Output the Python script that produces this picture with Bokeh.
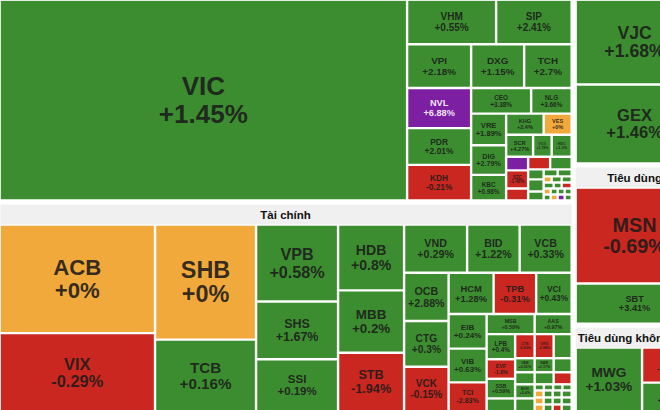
from bokeh.plotting import figure
from bokeh.models import ColumnDataSource, Range1d
from bokeh.embed import file_html
from bokeh.resources import INLINE
from bokeh.core.properties import value

# ---------------- data ----------------
sector_names = ["Bất động sản", "Tài chính", "Công nghiệp", "Tiêu dùng", "Tiêu dùng không thiết yếu"]
sector_weights = [129.6, 121.5, 22.9, 19.5, 10.7]

bds_tickers = ["VIC", "VHM", "SIP", "VPI", "DXG", "TCH", "NVL", "PDR", "KDH", "CEO", "NLG",
               "VRE", "DIG", "KBC", "KHG", "VES", "SCR", "VCG", "HDC", "IJC", "SZC", "NTL",
               "HDG", "TDC", "DXS", "CRE", "HQC", "LDG", "NBB", "QCG", "SJS", "ITC", "DPG",
               "LHG", "TIG", "API", "CKG", "PDC", "IDJ", "HPX", "LGL", "TDH", "NRC"]
bds_changes = [1.45, 0.55, 2.41, 2.18, 1.15, 2.7, 6.88, 2.01, -0.21, 3.38, 3.66,
               1.89, 2.79, 0.98, 2.40, 0, 4.27, 1.78, 1.30, 6.93, -1.48, -0.52,
               -0.64, 1.21, 1.10, 2.00, 1.52, 0.80, 1.00, 0, 0.50, 1.30, 0.70,
               0.40, -1.10, 0, 0.60, 1.00, 0, 0.30, 6.90, 1.20, 2.30]
bds_weights = [81500, 3960, 3360, 2784, 2306, 2066, 2560, 2336, 2272, 1530, 1033,
               1103, 1033, 893, 788, 588, 594, 407, 440, 297, 396, 264,
               275, 269, 155, 186, 140, 98, 98, 48, 60, 60, 60,
               48, 60, 42, 42, 42, 42, 42, 42, 42, 42]

tc_tickers = ["ACB", "VIX", "SHB", "TCB", "VPB", "SHS", "SSI", "HDB", "MBB", "STB",
              "VND", "BID", "VCB", "OCB", "CTG", "VCK", "HCM", "TPB", "VCI", "EIB",
              "VIB", "TCI", "MSB", "AAS", "LPB", "EVF", "SSB", "FTS", "CTS", "ORS",
              "BSI", "VAB", "NAB", "BVB", "TVS", "AGR", "MIG", "BVH", "KLB", "VIG",
              "APG", "BMI", "PTI", "SGB", "PGB", "BAB", "VBB", "NVB", "WSS", "EVS",
              "IVS", "HBS", "PSI", "DSC", "TVB"]
tc_changes = [0, -0.29, 0, 0.16, 0.58, 1.67, 0.19, 0.8, 0.2, -1.94,
              0.29, 1.22, 0.33, 2.88, 0.3, -0.15, 1.28, -0.31, 0.43, 0.24,
              0.63, -2.83, 0.59, 0.97, 0.40, -1.80, 0.59, 0.80, -0.93, -0.98,
              0.72, 0.55, 1.17, 0.63, 2.35, 1.10, -0.50, 0.40, 0.90, 1.00,
              0.50, 0.60, 0.70, 0, 0.40, 0.30, 0.20, 0, 1.20, 0.80,
              0.50, 0, 0.90, -0.70, 1.10]
tc_weights = [16794, 12129, 11565, 7222, 6273, 4715, 4264, 4323, 4092, 3861,
              3024, 2520, 2496, 2136, 2025, 1980, 1845, 1743, 1456, 1311,
              1273, 1102, 960, 740, 713, 556, 556, 371, 468, 456,
              432, 273, 266, 252, 234, 228, 216, 273, 254, 56,
              56, 56, 56, 63, 63, 63, 70, 63, 63, 63,
              70, 63, 63, 63, 70]

cn_tickers = ["VJC", "GEX"]
cn_changes = [1.68, 1.46]
cn_weights = [10309, 9577]

td_tickers = ["MSN", "SBT"]
td_changes = [-0.69, 3.41]
td_weights = [11564, 4838]

tdk_tickers = ["MWG", "PNJ", "HAX"]
tdk_changes = [1.03, -1.10, 1.20]
tdk_weights = [4123, 1751, 1442]

# ---------------- structure (slice & dice nesting) ----------------
bds_tree = ("h", ["VIC", ("v", [
    ("h", ["VHM", "SIP"]),
    ("h", ["VPI", "DXG", "TCH"]),
    ("h", [("v", ["NVL", "PDR", "KDH"]),
           ("v", [("h", ["CEO", "NLG"]),
                  ("h", [("v", ["VRE", "DIG", "KBC"]),
                         ("v", [("h", ["KHG", "VES"]),
                                ("h", ["SCR", "VCG", "HDC"]),
                                ("h", [("v", ["IJC", "SZC", "NTL"]),
                                       ("v", [("h", ["HDG", "TDC"]),
                                              ("h", [("v", ["DXS", "CRE", "HQC"]),
                                                     ("v", [("h", ["LDG", "NBB"]),
                                                            ("h", ["QCG", "SJS", "ITC"]),
                                                            ("h", ["DPG", "LHG", "TIG"]),
                                                            ("h", [("v", ["API", "CKG"]),
                                                                   ("v", ["PDC", "IDJ"]),
                                                                   ("v", ["HPX", "LGL"]),
                                                                   ("v", ["TDH", "NRC"])])])])])])])])])])])])

tc_tree = ("h", [("v", ["ACB", "VIX"]), ("v", ["SHB", "TCB"]), ("v", ["VPB", "SHS", "SSI"]),
                 ("v", ["HDB", "MBB", "STB"]),
                 ("v", [("h", ["VND", "BID", "VCB"]),
                        ("h", [("v", ["OCB", "CTG", "VCK"]),
                               ("v", [("h", ["HCM", "TPB", "VCI"]),
                                      ("h", [("v", ["EIB", "VIB", "TCI"]),
                                             ("v", [("h", ["MSB", "AAS"]),
                                                    ("h", [("v", ["LPB", "EVF", "SSB", "FTS"]),
                                                           ("v", [("h", ["CTS", "ORS", "BSI"]),
                                                                  ("h", ["VAB", "NAB", "BVB"]),
                                                                  ("h", ["TVS", "AGR", "MIG"]),
                                                                  ("h", [("v", ["BVH", "KLB"]),
                                                                         ("v", [("h", ["VIG", "APG", "BMI", "PTI"]),
                                                                                ("h", ["SGB", "PGB", "BAB", "VBB"]),
                                                                                ("h", ["NVB", "WSS", "EVS", "IVS"]),
                                                                                ("h", ["HBS", "PSI", "DSC", "TVB"])])])])])])])])])])])

cn_tree = ("v", ["VJC", "GEX"])
td_tree = ("v", ["MSN", "SBT"])
tdk_tree = ("h", ["MWG", ("v", ["PNJ", "HAX"])])

sectors = [
    (bds_tree, bds_tickers, bds_changes, bds_weights),
    (tc_tree, tc_tickers, tc_changes, tc_weights),
    (cn_tree, cn_tickers, cn_changes, cn_weights),
    (td_tree, td_tickers, td_changes, td_weights),
    (tdk_tree, tdk_tickers, tdk_changes, tdk_weights),
]
top_tree = ("h", [("v", [sector_names[0], sector_names[1]]),
                  ("v", [sector_names[2], sector_names[3], sector_names[4]])])

# ---------------- layout ----------------
CANVAS = (-3.0, -23.0, 695.0, 413.0)   # treemap extent (partly outside the view)
SECTOR_PAD = 2.0
HEADER_H = 20.0
CELL_PAD = 1.2


def weight(node, wmap):
    if isinstance(node, str):
        return wmap[node]
    return sum(weight(k, wmap) for k in node[1])


def place(node, x0, y0, x1, y1, wmap, out):
    if isinstance(node, str):
        out.append((node, x0, y0, x1, y1))
        return
    orient, kids = node
    tot = sum(weight(k, wmap) for k in kids)
    cur = x0 if orient == "h" else y0
    for k in kids:
        frac = weight(k, wmap) / tot
        if orient == "h":
            nx = cur + (x1 - x0) * frac
            place(k, cur, y0, nx, y1, wmap, out)
            cur = nx
        else:
            ny = cur + (y1 - y0) * frac
            place(k, x0, cur, x1, ny, wmap, out)
            cur = ny


def cell_color(ch):
    if ch >= 6.5:
        return "#7d1fa3"
    if ch > 0:
        return "#3c8d2f"
    if ch == 0:
        return "#f2a93b"
    return "#c9271f"


sector_frames = []
place(top_tree, *CANVAS, dict(zip(sector_names, sector_weights)), sector_frames)
frame_of = {name: (x0, y0, x1, y1) for name, x0, y0, x1, y1 in sector_frames}

cells = dict(l=[], r=[], t=[], b=[], c=[])
labels = dict(x=[], y=[], text=[], fs=[], col=[])
heads = dict(l=[], r=[], t=[], b=[])
htext = dict(x=[], y=[], text=[], align=[])

for name, (tree, tks, chs, wts) in zip(sector_names, sectors):
    x0, y0, x1, y1 = frame_of[name]
    x0 += SECTOR_PAD; y0 += SECTOR_PAD; x1 -= SECTOR_PAD; y1 -= SECTOR_PAD
    heads["l"].append(x0); heads["r"].append(x1); heads["t"].append(y0); heads["b"].append(y0 + HEADER_H)
    est_w = len(name) * 0.6 * 11.5
    if est_w > (x1 - x0) - 6:
        htext["x"].append(x0 + 2); htext["align"].append("left")
    else:
        htext["x"].append((x0 + x1) / 2); htext["align"].append("center")
    htext["y"].append(y0 + HEADER_H / 2 + 0.5)
    htext["text"].append(name)

    wmap = dict(zip(tks, wts))
    cmap = dict(zip(tks, chs))
    leaves = []
    place(tree, x0, y0 + HEADER_H, x1, y1, wmap, leaves)
    for tk, a, b_, c, d in leaves:
        l, t, r, bt = a + CELL_PAD, b_ + CELL_PAD, c - CELL_PAD, d - CELL_PAD
        ch = cmap[tk]
        cells["l"].append(l); cells["r"].append(r); cells["t"].append(t); cells["b"].append(bt)
        cells["c"].append(cell_color(ch))
        w, h = r - l, bt - t
        if w >= 16 and h >= 11.5:
            fs = min(0.19 * h + 2.0, (w - 4) / 3.5, 26.0)
            tc = "#ffffff" if ch >= 6.5 else "#1b1b1b"
            cx, cy = (l + r) / 2, (t + bt) / 2
            labels["x"] += [cx, cx]
            labels["y"] += [cy - 0.53 * fs, cy + 0.53 * fs]
            labels["text"] += [tk, f"{ch:+g}%"]
            labels["fs"] += [f"{fs:.1f}px"] * 2
            labels["col"] += [tc, tc]

# ---------------- plot ----------------
p = figure(width=660, height=410, x_range=Range1d(0, 660), y_range=Range1d(410, 0),
           toolbar_location=None, output_backend="svg", min_border=0,
           x_axis_location=None, y_axis_location=None)
p.grid.visible = False
p.outline_line_color = None
p.background_fill_color = "white"
p.border_fill_color = "white"

p.quad(left="l", right="r", top="t", bottom="b", source=ColumnDataSource(heads),
       fill_color="#f0f0f0", line_color=None)
p.quad(left="l", right="r", top="t", bottom="b", fill_color="c", source=ColumnDataSource(cells),
       line_color=None)
p.text(x="x", y="y", text="text", text_font_size="fs", text_color="col", source=ColumnDataSource(labels),
       text_align="center", text_baseline="middle", text_font=value("Liberation Sans"),
       text_font_style="bold", text_alpha=0.9)
hs = ColumnDataSource(htext)
p.text(x="x", y="y", text="text", text_align="align", source=hs, text_baseline="middle",
       text_font_size="11.5px", text_color="#111111", text_font=value("Liberation Sans"),
       text_font_style="bold")

open("out.html", "w").write(file_html(p, INLINE))
